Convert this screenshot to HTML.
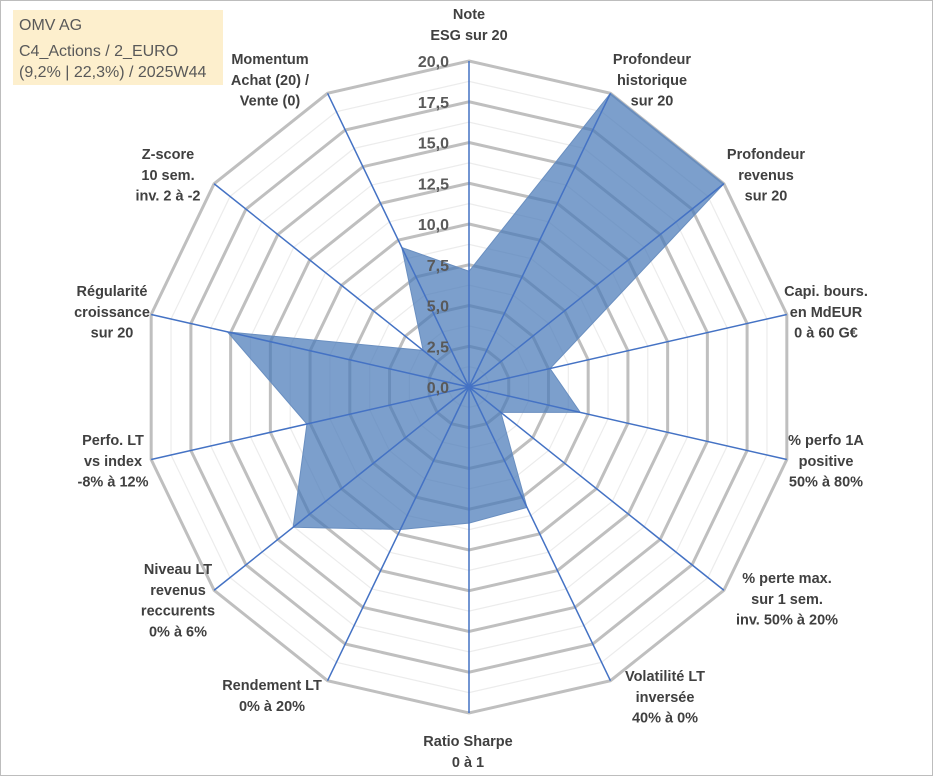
<!DOCTYPE html>
<html><head><meta charset="utf-8"><style>
body{margin:0;background:#fff}
svg{display:block;font-family:"Liberation Sans",sans-serif}
</style></head><body>
<svg id="chart" width="933" height="776" viewBox="0 0 933 776">
<rect x="0.5" y="0.5" width="932" height="775" fill="#fff" stroke="#bdbdbd"/>
<rect x="13" y="10" width="210" height="75" fill="#fdefcd"/>
<g font-size="16" fill="#595959">
<text x="19" y="30">OMV AG</text>
<text x="19" y="56">C4_Actions / 2_EURO</text>
<text x="19" y="77">(9,2% | 22,3%) / 2025W44</text>
</g>
<g id="grid"></g><g id="series"></g><g id="axes"></g><g id="ticks"></g><g id="labels"></g>
</svg>
<script>
const categories = [
 ["Note","ESG sur 20"],
 ["Profondeur","historique","sur 20"],
 ["Profondeur","revenus","sur 20"],
 ["Capi. bours.","en MdEUR","0 à 60 G€"],
 ["% perfo 1A","positive","50% à 80%"],
 ["% perte max.","sur 1 sem.","inv. 50% à 20%"],
 ["Volatilité LT","inversée","40% à 0%"],
 ["Ratio Sharpe","0 à 1"],
 ["Rendement LT","0% à 20%"],
 ["Niveau LT","revenus","reccurents","0% à 6%"],
 ["Perfo. LT","vs index","-8% à 12%"],
 ["Régularité","croissance","sur 20"],
 ["Z-score","10 sem.","inv. 2 à -2"],
 ["Momentum","Achat (20) /","Vente (0)"]
];
const values = [7.1, 20, 20, 5.1, 7.0, 2.5, 8.2, 8.35, 9.7, 13.8, 10.2, 15.2, 3.6, 9.5];
const tickValues = [0, 2.5, 5, 7.5, 10, 12.5, 15, 17.5, 20];
const tickLabels = ["0,0","2,5","5,0","7,5","10,0","12,5","15,0","17,5","20,0"];
const labelAnchors = [
 [469,14],[652,59],[766,154],[826,291],[826,440],[787,578],[665,676],[468,741],[272,685],[178,569],[113,440],[112,291],[168,154],[270,59]
];

const NS="http://www.w3.org/2000/svg";
const cx=469, cy=387, R=326, vmax=20, N=categories.length;
function rScale(v){return v/vmax*R;}
function pt(i,v){const a=i*2*Math.PI/N;return [cx+rScale(v)*Math.sin(a), cy-rScale(v)*Math.cos(a)];}
function mk(tag,attrs,parent){const e=document.createElementNS(NS,tag);for(const k in attrs)e.setAttribute(k,attrs[k]);parent.appendChild(e);return e;}
const grid=document.getElementById('grid');
for(let v=1.25; v<=20.001; v+=1.25){
 const major=Math.abs(v/2.5-Math.round(v/2.5))<1e-6;
 const p=[];for(let i=0;i<N;i++)p.push(pt(i,v).join(','));
 const e=mk('polygon',{points:p.join(' '),fill:'none',stroke:major?'#bfbfbf':'#ececec','stroke-width':major?3:1.2},grid);
 
 
}
const series=document.getElementById('series');
const sp=values.map((v,i)=>pt(i,v).join(','));
const poly=mk('polygon',{points:sp.join(' '),fill:'#4a7ab8','fill-opacity':0.72,stroke:'#6a8fc0','stroke-width':1},series);


const axes=document.getElementById('axes');
for(let i=0;i<N;i++){
 const [x,y]=pt(i,20);
 const l=mk('line',{x1:cx,y1:cy,x2:x,y2:y,stroke:'#4472c4','stroke-width':1.5},axes);
 
 
}
const ticks=document.getElementById('ticks');
tickValues.forEach((v,k)=>{
 const t=mk('text',{x:449,y:cy-rScale(v)+6,'text-anchor':'end','font-size':16,'font-weight':'bold',fill:'#595959'},ticks);
 t.textContent=tickLabels[k];
 
 
});
const labels=document.getElementById('labels');
categories.forEach((lines,i)=>{
 const [x,y]=labelAnchors[i];
 const g=mk('text',{'text-anchor':'middle','font-size':14.5,'font-weight':'bold',fill:'#404040'},labels);
 
 
 lines.forEach((s,j)=>{const ts=mk('tspan',{x:x,y:y+5+j*20.8},g);ts.textContent=s;});
});
</script>
</body></html>
